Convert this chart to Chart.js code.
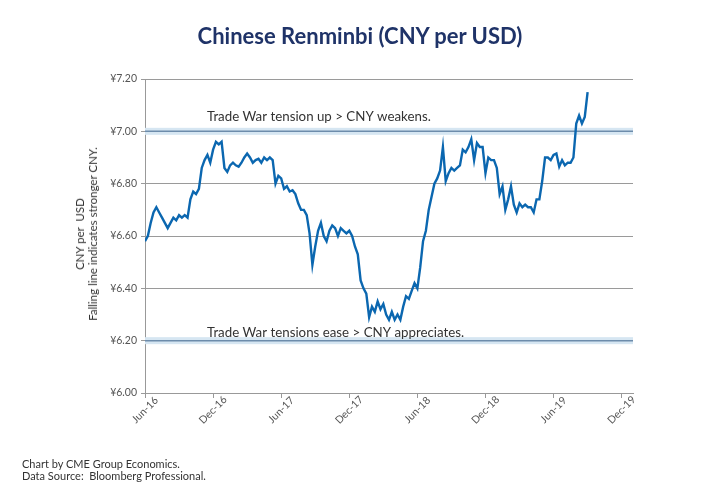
<!DOCTYPE html>
<html>
<head>
<meta charset="utf-8">
<script src="https://cdn.jsdelivr.net/npm/chart.js@4"></script>
<style>
  body { margin:0; background:#fff; font-family: Lato, sans-serif; }
  #wrap { position:relative; width:720px; height:500px; overflow:hidden; }
  .title { position:absolute; top:22px; left:0; width:720px; text-align:center; font-size:22px; font-weight:bold; color:#1f3368; }
  .ytitle { position:absolute; left:86px; top:234px; transform:translate(-50%,-50%) rotate(-90deg); text-align:center; font-size:11.5px; color:#333; line-height:13px; white-space:nowrap; }
  .foot { position:absolute; left:22px; top:458px; font-size:11px; color:#333; line-height:12px; }
  canvas { position:absolute; left:0; top:0; }
</style>
</head>
<body>
<div id="wrap">
  <canvas id="myChart" width="720" height="500"></canvas>
  <div class="title">Chinese Renminbi (CNY per USD)</div>
  <div class="ytitle">CNY per&nbsp; USD<br>Falling line indicates stronger CNY.</div>
  <div class="foot">Chart by CME Group Economics.<br>Data Source:&nbsp; Bloomberg Professional.</div>
</div>
<script>
// weekly CNY per USD, first value = start of Jun-16
const values = [
  6.58, 6.60, 6.65, 6.69,   6.71, 6.69, 6.67, 6.65,   6.63, 6.65, 6.67, 6.66,   6.68, 6.67, 6.68, 6.67,
  6.74, 6.77, 6.76, 6.78,   6.86, 6.89, 6.91, 6.88,   6.93, 6.96, 6.95, 6.96,   6.86, 6.845, 6.87, 6.88,
  6.87, 6.865, 6.88, 6.90,  6.915, 6.90, 6.88, 6.89,  6.895, 6.88, 6.90, 6.89,  6.90, 6.89, 6.80, 6.83,
  6.82, 6.78, 6.79, 6.77,   6.775, 6.76, 6.725, 6.70, 6.70, 6.68, 6.61, 6.49,   6.56, 6.62, 6.65, 6.60,
  6.58, 6.62, 6.64, 6.63,   6.60, 6.63, 6.62, 6.61,   6.62, 6.60, 6.56, 6.53,   6.43, 6.40, 6.38, 6.29,
  6.33, 6.31, 6.35, 6.32,   6.34, 6.30, 6.28, 6.31,   6.28, 6.30, 6.28, 6.33,   6.37, 6.36, 6.39, 6.42,
  6.40, 6.48, 6.58, 6.62,   6.70, 6.75, 6.80, 6.82,   6.85, 6.94, 6.81, 6.84,   6.86, 6.85, 6.86, 6.87,
  6.93, 6.92, 6.94, 6.97,   6.89, 6.955, 6.94, 6.94,  6.84, 6.90, 6.89, 6.89,   6.86, 6.76, 6.79, 6.70,
  6.74, 6.79, 6.72, 6.69,   6.725, 6.71, 6.72, 6.71,  6.71, 6.69, 6.74, 6.74,   6.81, 6.90, 6.90, 6.89,
  6.91, 6.915, 6.865, 6.89, 6.87, 6.88, 6.88, 6.90,  7.03, 7.06, 7.03, 7.055,  7.15
];
const monthStep = 0.25; // x counted in months from Jun-16
const xTickMonths = [0, 6, 12, 18, 24, 30, 36, 42];
const xTickLabels = ['Jun-16', 'Dec-16', 'Jun-17', 'Dec-17', 'Jun-18', 'Dec-18', 'Jun-19', 'Dec-19'];
const yTicks = [6.0, 6.2, 6.4, 6.6, 6.8, 7.0, 7.2];
const bandLevels = [7.0, 6.2];
const bandNotes = ['Trade War tension up > CNY weakens.', 'Trade War tensions ease > CNY appreciates.'];

const points = values.map((v, i) => ({ x: i * monthStep, y: v }));

// light blue bands + the two notes
const bandPlugin = {
  id: 'bands',
  beforeDatasetsDraw(chart) {
    const c = chart.ctx, a = chart.chartArea, ys = chart.scales.y;
    const noteGap = [15, 8];
    c.save();
    bandLevels.forEach((lvl, i) => {
      const y = ys.getPixelForValue(lvl);
      c.fillStyle = '#d6e6f2';
      c.fillRect(a.left, y - 3.5, a.right - a.left, 7);
      c.strokeStyle = '#6d8cab';
      c.lineWidth = 1.5;
      c.beginPath(); c.moveTo(a.left, y); c.lineTo(a.right, y); c.stroke();
      c.fillStyle = '#333';
      c.font = '13.3px Lato';
      c.textBaseline = 'middle';
      c.fillText(bandNotes[i], a.left + 62, y - noteGap[i]);
    });
    c.restore();
  },
  // rotated month labels, centred under each tick
  afterDraw(chart) {
    const c = chart.ctx, xs = chart.scales.x, a = chart.chartArea;
    c.save();
    c.fillStyle = '#555';
    c.font = '10.5px Lato';
    c.textAlign = 'center';
    c.textBaseline = 'middle';
    xTickMonths.forEach((m, i) => {
      c.save();
      c.translate(xs.getPixelForValue(m), a.bottom + 17);
      c.rotate(-Math.PI / 4);
      c.fillText(xTickLabels[i], 0, 0);
      c.restore();
    });
    c.restore();
  }
};

const ctx = document.getElementById('myChart');
new Chart(ctx, {
  type: 'line',
  data: {
    datasets: [{
      data: points,
      borderColor: '#0b67b0',
      borderWidth: 2.4,
      pointRadius: 0,
      tension: 0
    }]
  },
  options: {
    responsive: false,
    animation: false,
    devicePixelRatio: 1,
    layout: { padding: { left: 90, top: 79, right: 87, bottom: 57 } },
    plugins: { legend: { display: false }, tooltip: { enabled: false } },
    scales: {
      x: {
        type: 'linear',
        min: 0,
        max: 43,
        afterFit: s => { s.height = 50; },
        afterBuildTicks: s => { s.ticks = xTickMonths.map(v => ({ value: v })); },
        grid: { drawOnChartArea: false, color: '#999', tickLength: 5 },
        border: { color: '#999' },
        ticks: { display: false }
      },
      y: {
        min: 6.0,
        max: 7.2,
        afterFit: s => { s.width = 55; },
        afterBuildTicks: s => { s.ticks = yTicks.map(v => ({ value: v })); },
        grid: { color: '#9a9a9a', tickLength: 4 },
        border: { color: '#999' },
        ticks: {
          padding: 4,
          font: { family: 'Lato', size: 10.5 }, color: '#555',
          callback: v => '¥' + v.toFixed(2)
        }
      }
    }
  },
  plugins: [bandPlugin]
});
</script>
</body>
</html>
